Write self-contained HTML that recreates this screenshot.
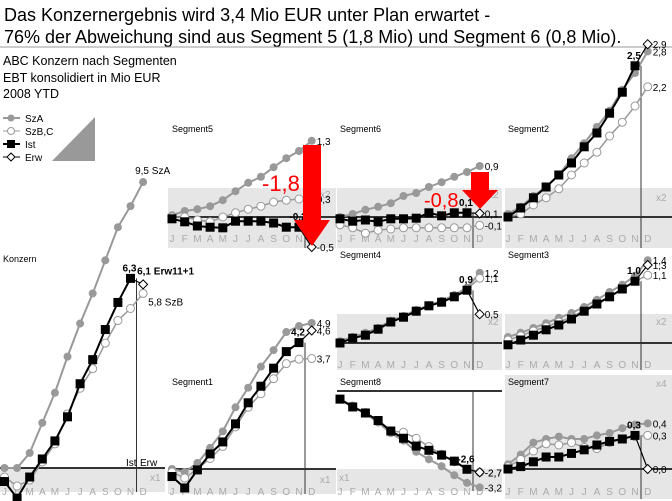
<!DOCTYPE html>
<html><head><meta charset="utf-8"><style>
body{margin:0;background:#fff}
svg{display:block;font-family:"Liberation Sans",sans-serif}
</style></head><body>
<svg id="c" width="672" height="501" viewBox="0 0 672 501">
<text x="4" y="21" font-size="18" fill="#000">Das Konzernergebnis wird 3,4 Mio EUR unter Plan erwartet -</text>
<text x="4" y="43" font-size="18" fill="#000">76% der Abweichung sind aus Segment 5 (1,8 Mio) und Segment 6 (0,8 Mio).</text>
<line x1="0" y1="47" x2="672" y2="47" stroke="#999" stroke-width="1"/>
<text x="3" y="65" font-size="12.5">ABC Konzern nach Segmenten</text>
<text x="3" y="82" font-size="12.5">EBT konsolidiert in Mio EUR</text>
<text x="3" y="98" font-size="12.5">2008 YTD</text>
<g>
 <line x1="3" y1="118" x2="20" y2="118" stroke="#999" stroke-width="2"/><circle cx="11" cy="118" r="3.5" fill="#999"/>
 <text x="25" y="122" font-size="10">SzA</text>
 <line x1="3" y1="131" x2="20" y2="131" stroke="#999" stroke-width="1"/><circle cx="11" cy="131" r="3.5" fill="#fff" stroke="#999"/>
 <text x="25" y="135" font-size="10">SzB,C</text>
 <line x1="3" y1="144" x2="20" y2="144" stroke="#000" stroke-width="2"/><rect x="7" y="140" width="8" height="8" fill="#000"/>
 <text x="25" y="148" font-size="10">Ist</text>
 <line x1="3" y1="157" x2="20" y2="157" stroke="#000" stroke-width="1"/><path d="M11 153 L15 157 L11 161 L7 157Z" fill="#fff" stroke="#000"/>
 <text x="25" y="161" font-size="10">Erw</text>
 <path d="M52 161 L95 117 L95 161Z" fill="#999"/>
 <text x="0" y="0" font-size="9" fill="#fff" transform="translate(60,150) rotate(-45)">kumuliert</text>
</g>
<g id="panels"></g>
<g>
 <path d="M303 145 L321 145 L321 220 L330 220 L312 246 L294 220 L303 220Z" fill="#f00"/>
 <text x="262" y="191" font-size="22" fill="#f00">-1,8</text>
</g>
<g>
 <path d="M471 172 L489 172 L489 190 L498 190 L480 209 L462 190 L471 190Z" fill="#f00"/>
 <text x="424" y="207" font-size="20" fill="#f00">-0,8</text>
</g>
</svg>
<script>
const months = ['J','F','M','A','M','J','J','A','S','O','N','D'];
// Konzern
const konzSzA = [0,0,0.5,1.5,2.5,3.7,4.8,5.8,6.9,8.0,8.7,9.5];
const konzSzB = [-0.3,-0.6,-0.4,0.2,0.8,1.8,2.65,3.3,4.15,4.9,5.3,5.8];
const konzIst = [-0.45,-1.0,-0.3,0.3,0.9,1.7,2.8,3.6,4.6,5.5,6.3];
const konzErw = 6.1;
// Segment5
const seg5SzA = [0.03,0.1,0.13,0.18,0.28,0.43,0.57,0.67,0.83,0.98,1.1,1.27];
const seg5SzB = [0,0,-0.05,-0.08,0,0.07,0.13,0.18,0.25,0.28,0.3,0.3];
const seg5Ist = [-0.03,-0.08,-0.15,-0.17,-0.18,-0.07,-0.07,-0.07,-0.1,-0.17,-0.17];
const seg5Erw = -0.5;
// Segment6
const seg6SzA = [0,0.05,0.12,0.17,0.23,0.35,0.4,0.5,0.58,0.67,0.75,0.85];
const seg6SzB = [-0.13,-0.18,-0.27,-0.22,-0.2,-0.18,-0.18,-0.18,-0.18,-0.18,-0.18,-0.14];
const seg6Ist = [-0.03,-0.07,-0.05,-0.08,-0.03,-0.03,-0.02,0.07,0.02,0.07,0.07];
const seg6Erw = 0.06;
// Segment2
const seg2SzA = [0.05,0.17,0.35,0.5,0.7,0.98,1.23,1.5,1.77,2.12,2.4,2.76];
const seg2SzB = [0,0.05,0.2,0.32,0.47,0.7,0.9,1.08,1.35,1.58,1.85,2.17];
const seg2Ist = [0,0.15,0.32,0.5,0.7,0.9,1.17,1.4,1.73,2.08,2.52];
const seg2Erw = 2.88;
// Segment4
const seg4SzA = [0.03,0.1,0.17,0.25,0.37,0.45,0.55,0.63,0.7,0.8,0.92,1.17];
const seg4SzB = [0.01,0.08,0.14,0.23,0.35,0.43,0.53,0.62,0.69,0.78,0.9,1.08];
const seg4Ist = [0,0.08,0.13,0.23,0.35,0.43,0.53,0.62,0.68,0.77,0.88];
const seg4Erw = 0.48;
// Segment3
const seg3SzA = [0.1,0.17,0.25,0.33,0.42,0.5,0.6,0.72,0.85,0.97,1.12,1.38];
const seg3SzB = [0.05,0.12,0.2,0.27,0.35,0.43,0.55,0.67,0.77,0.9,1.03,1.13];
const seg3Ist = [-0.03,0.05,0.13,0.22,0.3,0.4,0.53,0.65,0.77,0.9,1.03];
const seg3Erw = 1.3;
// Segment1
const seg1SzA = [0,-0.1,0.2,0.7,1.25,2.05,2.7,3.4,3.95,4.55,4.75,4.85];
const seg1SzB = [-0.1,-0.3,0,0.35,0.75,1.4,2.05,2.5,3.0,3.5,3.65,3.67];
const seg1Ist = [-0.25,-0.63,-0.03,0.5,0.9,1.5,2.2,2.75,3.35,3.9,4.2];
const seg1Erw = 4.6;
// Segment8
const seg8SzA = [-0.27,-0.5,-0.75,-1.05,-1.4,-1.65,-2.02,-2.27,-2.5,-2.8,-3.05,-3.2];
const seg8SzB = [-0.27,-0.5,-0.72,-1.0,-1.33,-1.37,-1.57,-1.85,-2.1,-2.35,-2.6,-2.7];
const seg8Ist = [-0.27,-0.53,-0.73,-0.98,-1.33,-1.57,-1.83,-1.97,-2.13,-2.33,-2.6];
const seg8Erw = -2.7;
// Segment7
const seg7SzA = [0.04,0.12,0.22,0.25,0.27,0.25,0.25,0.28,0.3,0.34,0.37,0.38];
const seg7SzB = [0.02,0.08,0.15,0.21,0.2,0.22,0.18,0.17,0.22,0.25,0.27,0.28];
const seg7Ist = [0,0.02,0.06,0.1,0.1,0.13,0.16,0.2,0.23,0.25,0.28];
const seg7Erw = 0.0;

const NS='http://www.w3.org/2000/svg';
const root=document.getElementById('panels');
function mk(tag,attrs,parent){const e=document.createElementNS(NS,tag);for(const k in attrs)e.setAttribute(k,attrs[k]);(parent||root).appendChild(e);return e;}
function fmt(v){return (Math.round(v*10)/10).toFixed(1).replace('.',',');}

const panels=[
 {id:'konzern',title:'Konzern',tx:3,ty:262,px:[0,165],x0:4.5,step:12.6,zero:468,scale:30.1,band:[468,492],my:495,vb:492,mag:'x1',magX:150,magY:481,sza:konzSzA,szb:konzSzB,ist:konzIst,erw:konzErw,szaSuffix:' SzA',szbSuffix:' SzB',erwSuffix:' Erw11+1'},
 {id:'seg5',title:'Segment5',tx:172,ty:132,px:[168,336],x0:172,step:12.7,zero:217,scale:60,band:[188,248],my:242,vb:248,mag:'x2',magX:320,magY:198,sza:seg5SzA,szb:seg5SzB,ist:seg5Ist,erw:seg5Erw},
 {id:'seg6',title:'Segment6',tx:340,ty:132,px:[337,502],x0:340,step:12.7,zero:217,scale:60,band:[188,248],my:242,vb:248,mag:'x2',magX:488,magY:198,sza:seg6SzA,szb:seg6SzB,ist:seg6Ist,erw:seg6Erw},
 {id:'seg2',title:'Segment2',tx:508,ty:132,px:[505,672],x0:508,step:12.7,zero:217,scale:60,band:[188,248],my:242,vb:248,mag:'x2',magX:656,magY:201,sza:seg2SzA,szb:seg2SzB,ist:seg2Ist,erw:seg2Erw},
 {id:'seg4',title:'Segment4',tx:340,ty:258,px:[337,502],x0:340,step:12.7,zero:343,scale:60,band:[314,370],my:368,vb:370,mag:'x2',magX:488,magY:325,sza:seg4SzA,szb:seg4SzB,ist:seg4Ist,erw:seg4Erw},
 {id:'seg3',title:'Segment3',tx:508,ty:258,px:[505,672],x0:508,step:12.7,zero:343,scale:60,band:[314,370],my:368,vb:370,mag:'x2',magX:656,magY:325,sza:seg3SzA,szb:seg3SzB,ist:seg3Ist,erw:seg3Erw},
 {id:'seg1',title:'Segment1',tx:172,ty:385,px:[168,336],x0:172,step:12.7,zero:469,scale:30.1,band:[469,494],my:495,vb:494,mag:'x1',magX:320,magY:483,sza:seg1SzA,szb:seg1SzB,ist:seg1Ist,erw:seg1Erw},
 {id:'seg8',title:'Segment8',tx:340,ty:385,px:[337,502],x0:340,step:12.7,zero:391,scale:30.1,band:[469,491],my:495,vb:491,mag:'x1',magX:339,magY:481,sza:seg8SzA,szb:seg8SzB,ist:seg8Ist,erw:seg8Erw},
 {id:'seg7',title:'Segment7',tx:508,ty:385,px:[505,672],x0:508,step:12.7,zero:469,scale:120,band:[375,499],my:495,vb:499,mag:'x4',magX:656,magY:387,sza:seg7SzA,szb:seg7SzB,ist:seg7Ist,erw:seg7Erw}
];

panels.forEach(p=>{
 const g=mk('g',{});
 
 
 const X=i=>p.x0+i*p.step, Y=v=>p.zero-v*p.scale;
 const band=mk('rect',{x:p.px[0],y:p.band[0],width:p.px[1]-p.px[0],height:p.band[1]-p.band[0],fill:'#e6e6e6'},g);
 
 
 const t=mk('text',{x:p.tx,y:p.ty,'font-size':9,fill:'#000'},g);t.textContent=p.title;
 
 
 const mg=mk('text',{x:p.magX,y:p.magY,'font-size':10,fill:'#aaa'},g);mg.textContent=p.mag;
 
 
 months.forEach((m,i)=>{const mt=mk('text',{x:X(i),y:p.my,'font-size':10,fill:'#aaa','text-anchor':'middle'},g);mt.textContent=m;
  
  });
 const zl=mk('line',{x1:p.px[0],x2:p.px[1],y1:p.zero,y2:p.zero,stroke:'#333','stroke-width':2},g);
 
 
 const nTop=Math.min(Y(p.ist[10]),p.zero);
 const vl=mk('line',{x1:X(10)+6,x2:X(10)+6,y1:nTop,y2:p.vb,stroke:'#333','stroke-width':1},g);
 
 
 const pb=mk('polyline',{points:p.szb.map((v,i)=>X(i)+','+Y(v)).join(' '),fill:'none',stroke:'#999','stroke-width':1.5},g);
 
 
 const pa=mk('polyline',{points:p.sza.map((v,i)=>X(i)+','+Y(v)).join(' '),fill:'none',stroke:'#999','stroke-width':2},g);
 
 
 p.sza.forEach((v,i)=>{const c=mk('circle',{cx:X(i),cy:Y(v),r:4,fill:'#999'},g);
  
  });
 p.szb.forEach((v,i)=>{const c=mk('circle',{cx:X(i),cy:Y(v),r:4,fill:'#fff',stroke:'#999'},g);
  
  });
 const pi=mk('polyline',{points:p.ist.map((v,i)=>X(i)+','+Y(v)).join(' '),fill:'none',stroke:'#000','stroke-width':2},g);
 
 
 const el=mk('line',{x1:X(10),y1:Y(p.ist[10]),x2:X(11),y2:Y(p.erw),stroke:'#000','stroke-width':1.2},g);
 
 
 p.ist.forEach((v,i)=>{const r=mk('rect',{x:X(i)-4.5,y:Y(v)-4.5,width:9,height:9,fill:'#000'},g);
  
  });
 const ex=X(11),ey=Y(p.erw);
 const d=mk('path',{d:`M${ex} ${ey-4.5} L${ex+4.5} ${ey} L${ex} ${ey+4.5} L${ex-4.5} ${ey}Z`,fill:'#fff',stroke:'#000'},g);
 
 
 const lab=(x,y,s,bold,anchor,name)=>{const l=mk('text',{x:x,y:y,'font-size':10,fill:'#000','font-weight':bold?'bold':'normal','text-anchor':anchor||'start'},g);l.textContent=s;
  
  };
 if(p.id==='konzern'){
  lab(X(11)-8,Y(p.sza[11])-8,fmt(p.sza[11])+' SzA',false,'start','konzern-sza-value');
  lab(X(11)-6,Y(p.erw)-10,fmt(p.erw)+p.erwSuffix,true,'start','konzern-erw-value');
 } else {
  lab(X(11)+5,Y(p.sza[11])+4,fmt(p.sza[11]),false,'start',p.id+'-sza-value');
  lab(X(11)+5,Y(p.erw)+4,fmt(p.erw),false,'start',p.id+'-erw-value');
 }
 lab(X(11)+5,Y(p.szb[11])+(p.id==='konzern'?12:4),fmt(p.szb[11])+(p.szbSuffix||''),false,'start',p.id+'-szb-value');
 lab(X(10)-1,Y(p.ist[10])-7,fmt(p.ist[10]),true,'middle',p.id+'-ist-value');
 if(p.id==='konzern'){
  lab(126,466,'Ist',false,'start','konzern-ist-tag');
  lab(140,466,'Erw',false,'start','konzern-erw-tag');
 }
});
</script>
</body></html>
